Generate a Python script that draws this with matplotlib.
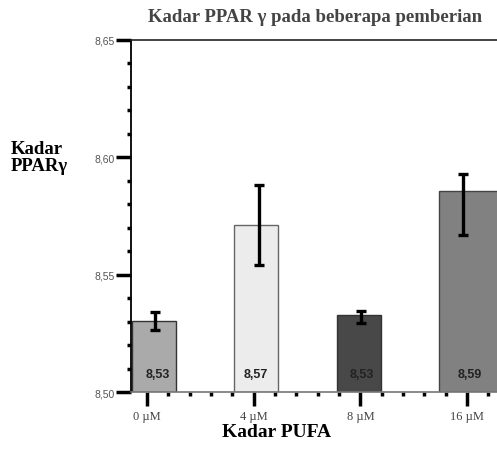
import numpy as np
import matplotlib
matplotlib.use("Agg")
import matplotlib.pyplot as plt
from matplotlib.ticker import MultipleLocator

## data
doses = ["0 µM", "4 µM", "8 µM", "16 µM"]
means = [8.5303, 8.5712, 8.5328, 8.5856]
err_low = [8.5264, 8.5541, 8.5294, 8.5669]
err_high = [8.5341, 8.5882, 8.5345, 8.5929]
labels = ["8,53", "8,57", "8,53", "8,59"]

# layout (bars are slightly off the tick positions in the original)
bar_left = [-0.14, 0.815, 1.78, 2.74]
bar_width = [0.41, 0.41, 0.41, 0.75]
err_x = [0.075, 1.05, 2.005, 2.96]
lab_x = [0.10, 1.02, 2.01, 3.02]
colors = ["#aaaaaa", "#ececec", "#484848", "#818181"]
edges = ["#333333", "#666666", "#333333", "#444444"]

SERIF = "Liberation Serif"
SANS = "Liberation Sans"
base = 8.50

fig = plt.figure(figsize=(4.97, 4.52), dpi=100)
ax = fig.add_axes([0.2636, 0.1305, 0.7837, 0.7788])

heights = np.array(means) - base
ax.bar(bar_left, heights, width=bar_width, bottom=base, align="edge",
       color=colors, edgecolor=edges, linewidth=1.0, zorder=2)

yerr = [np.array(means) - np.array(err_low), np.array(err_high) - np.array(means)]
ax.errorbar(err_x, means, yerr=yerr, fmt="none", ecolor="black",
            elinewidth=2.4, capsize=3.6, capthick=2.4, zorder=3)

for x, t in zip(lab_x, labels):
    ax.text(x, 8.5077, t, ha="center", va="center", fontsize=9,
            fontweight="bold", family=SANS, color="#222222", zorder=4)

ax.set_xlim(-0.15, 3.5)
ax.set_ylim(8.50, 8.65)

ax.set_yticks([8.50, 8.55, 8.60, 8.65])
ax.set_yticklabels(["8,50", "8,55", "8,60", "8,65"], family=SANS,
                   fontsize=7.5, color="#555555")
ax.yaxis.set_minor_locator(MultipleLocator(0.01))
ax.set_xticks(range(len(doses)))
ax.set_xticklabels(doses, family=SERIF, fontsize=9, color="#444444")
ax.xaxis.set_minor_locator(MultipleLocator(0.2))

ax.tick_params(axis="y", which="major", length=11, width=2.5, color="black", pad=0.5)
ax.tick_params(axis="x", which="major", length=10, width=2.5, color="black", pad=3)
ax.tick_params(axis="both", which="minor", length=3, width=2.5, color="black")

ax.spines["right"].set_visible(False)
ax.spines["left"].set_linewidth(1.3)
ax.spines["left"].set_color("black")
ax.spines["top"].set_linewidth(1.2)
ax.spines["top"].set_color("#222222")
ax.spines["bottom"].set_linewidth(1.2)
ax.spines["bottom"].set_color("#777777")

fig.text(0.634, 0.962, "Kadar PPAR γ pada beberapa pemberian", ha="center",
         va="center", fontsize=13.5, fontweight="bold", family=SERIF, color="#444444")
fig.text(0.557, 0.043, "Kadar PUFA", ha="center", va="center", fontsize=14,
         fontweight="bold", family=SERIF, color="black")
fig.text(0.022, 0.65, "Kadar\nPPARγ", ha="left", va="center", fontsize=13.5,
         fontweight="bold", family=SERIF, color="black", linespacing=1.0)

fig.savefig("out.png", dpi=100)
